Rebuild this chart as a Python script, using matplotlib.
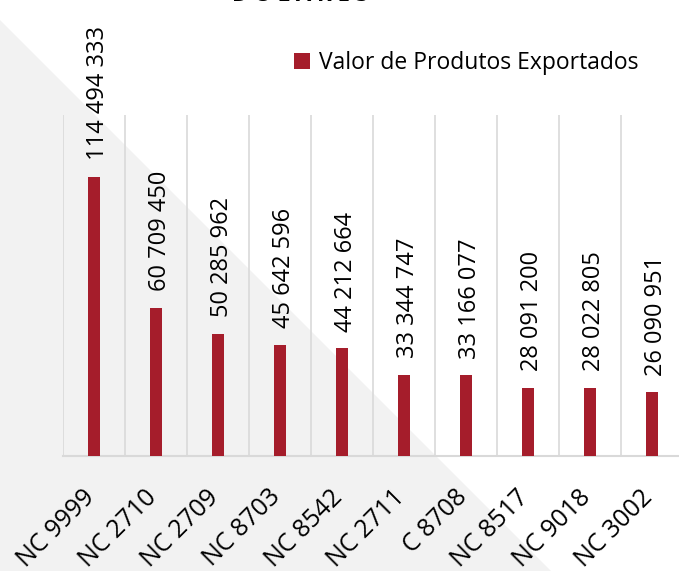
import matplotlib
matplotlib.use("Agg")
import matplotlib.pyplot as plt
from matplotlib.patches import Polygon
from matplotlib.transforms import ScaledTranslation

plt.rcParams["font.family"] = ["Open Sans", "DejaVu Sans"]

# dados
categorias = ["NC 9999", "NC 2710", "NC 2709", "NC 8703", "NC 8542",
              "NC 2711", "C 8708", "NC 8517", "NC 9018", "NC 3002"]
valores = [114494333, 60709450, 50285962, 45642596, 44212664,
           33344747, 33166077, 28091200, 28022805, 26090951]
serie_nome = "Valor de Produtos Exportados"

cor_barra = "#A51D2B"
cor_grelha = "#D9D9D9"

W, H = 679, 571
fig = plt.figure(figsize=(W / 100, H / 100), dpi=100)
fig.patch.set_facecolor("white")

# triângulo cinzento de fundo
tri = Polygon([(0, 1 - 20 / H), (551 / W, 0), (0, 0)], closed=True,
              transform=fig.transFigure, facecolor="#F2F2F2",
              edgecolor="none", zorder=-10)
fig.patches.append(tri)

ax = fig.add_axes([63 / W, (H - 456) / H, 620 / W, 341 / H])
ax.set_facecolor("none")
ax.set_zorder(1)

x = list(range(len(categorias)))
bars = ax.bar(x, valores, width=0.18, color=cor_barra, label=serie_nome, zorder=3)

# rótulos de dados por cima das barras
for xi, v in zip(x, valores):
    ax.annotate(f"{v:,}".replace(",", " "), (xi, v), xytext=(3, 12),
                textcoords="offset points", rotation=90, ha="center",
                va="bottom", fontsize=17, color="#000000")

ax.set_xlim(-0.5, len(categorias) - 0.5)
ax.set_ylim(0, 140e6)

ax.set_xticks(x)
ax.set_xticklabels(categorias, rotation=45, ha="right", va="center",
                   rotation_mode="anchor", fontsize=18)
ax.tick_params(axis="x", length=0, pad=27)
desloc = ScaledTranslation(-3 / 100, 0, fig.dpi_scale_trans)
for t in ax.get_xticklabels():
    t.set_transform(t.get_transform() + desloc)
ax.set_xticks([i - 0.5 for i in range(len(categorias) + 1)], minor=True)
ax.tick_params(axis="x", which="minor", length=0)
ax.grid(which="minor", axis="x", color=cor_grelha, linewidth=1.2, zorder=1)
ax.set_yticks([])

for s in ["left", "right", "top"]:
    ax.spines[s].set_visible(False)
ax.spines["bottom"].set_color(cor_grelha)
ax.spines["bottom"].set_linewidth(1.5)

ax.legend(loc="center left", bbox_to_anchor=(294 / W, 1 - 63 / H),
          bbox_transform=fig.transFigure, frameon=False, fontsize=16.5,
          handlelength=0.7, handleheight=0.7, handletextpad=0.4,
          borderpad=0, borderaxespad=0)

# título cortado no topo (também cortado no original)
fig.text(300 / W, 1 - 6 / H, "D Ó L A R E S", ha="center", va="bottom",
         fontsize=16, fontweight="bold")

fig.savefig("out.png", dpi=100)
